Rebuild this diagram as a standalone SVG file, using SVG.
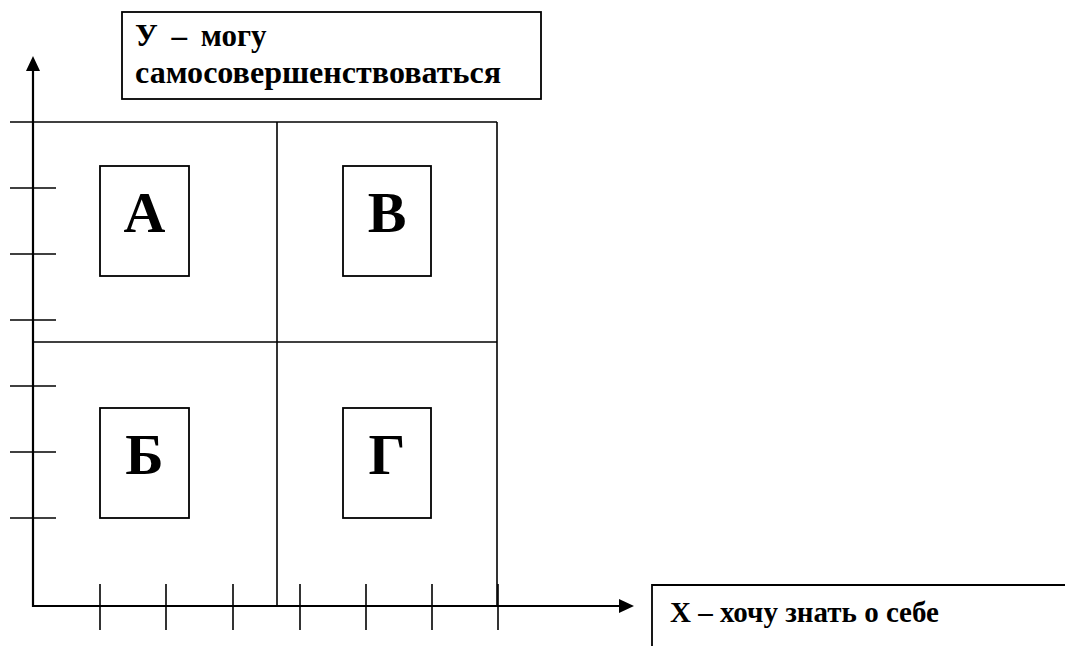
<svg xmlns="http://www.w3.org/2000/svg" width="1065" height="646" viewBox="0 0 1065 646">
<style>
.ax{stroke:#000;stroke-width:2.2;fill:none}
.ln{stroke:#000;stroke-width:1.6;fill:none}
.bx{stroke:#000;stroke-width:1.8;fill:#fff}
.lbl{font-family:"Liberation Serif","Times New Roman",serif;font-weight:bold;font-size:29px;fill:#000}
.lbly{font-family:"Liberation Serif","Times New Roman",serif;font-weight:bold;font-size:31px;fill:#000}
.big{font-family:"Liberation Serif","Times New Roman",serif;font-weight:bold;font-size:58px;fill:#000;text-anchor:middle}
</style>
<rect width="1065" height="646" fill="#fff"/>
<g id="connectors">
<line class="ax" x1="33" y1="70" x2="33" y2="607"/>
<polygon points="33,56 26,71 40,71" fill="#000"/>
<line class="ax" x1="32" y1="606" x2="620" y2="606"/>
<polygon points="634,606 619,599 619,613" fill="#000"/>
<g class="ln">
<line x1="10" y1="122" x2="497" y2="122"/>
<line x1="497" y1="122" x2="497" y2="606"/>
<line x1="33" y1="342" x2="497" y2="342"/>
<line x1="277" y1="122" x2="277" y2="606"/>
<line x1="10" y1="188" x2="56" y2="188"/>
<line x1="10" y1="254" x2="56" y2="254"/>
<line x1="10" y1="320" x2="56" y2="320"/>
<line x1="10" y1="386" x2="56" y2="386"/>
<line x1="10" y1="452" x2="56" y2="452"/>
<line x1="10" y1="518" x2="56" y2="518"/>
<line x1="100" y1="584" x2="100" y2="630"/>
<line x1="166" y1="584" x2="166" y2="630"/>
<line x1="233" y1="584" x2="233" y2="630"/>
<line x1="300" y1="584" x2="300" y2="630"/>
<line x1="366" y1="584" x2="366" y2="630"/>
<line x1="432" y1="584" x2="432" y2="630"/>
<line x1="498" y1="584" x2="498" y2="630"/>
</g>
</g>
<g id="label-y">
<rect class="bx" x="122" y="12" width="419" height="87"/>
<text class="lbly" x="135" y="46" word-spacing="6">У – могу</text>
<text class="lbly" x="135" y="83" textLength="366" lengthAdjust="spacingAndGlyphs">самосовершенствоваться</text>
</g>
<g id="label-x">
<polyline class="bx" points="1065,585 652,585 652,646" fill="none"/>
<text class="lbl" x="670" y="622">X – хочу знать о себе</text>
</g>
<g id="node-a">
<rect class="bx" x="100" y="166" width="89" height="110"/>
<text class="big" x="144.5" y="232">А</text>
</g>
<g id="node-v">
<rect class="bx" x="343" y="166" width="88" height="110"/>
<text class="big" x="387" y="232">В</text>
</g>
<g id="node-b">
<rect class="bx" x="100" y="408" width="89" height="110"/>
<text class="big" x="144.5" y="474">Б</text>
</g>
<g id="node-g">
<rect class="bx" x="343" y="408" width="88" height="110"/>
<text class="big" x="387" y="474">Г</text>
</g>
</svg>
